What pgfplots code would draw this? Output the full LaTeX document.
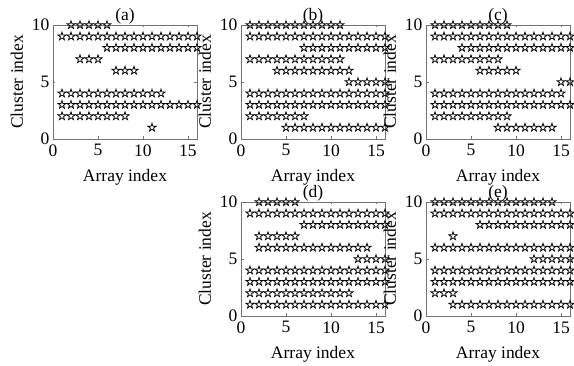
\documentclass[border=0pt]{standalone}
\usepackage{fontspec}
\setmainfont{Liberation Serif}
\usepackage{pgfplots}
\pgfplotsset{compat=1.18}
\pgfdeclareplotmark{pent}{%
  \pgfpathmoveto{\pgfpointpolar{90}{\pgfplotmarksize}}%
  \pgfpathlineto{\pgfpointpolar{126}{0.382\pgfplotmarksize}}%
  \pgfpathlineto{\pgfpointpolar{162}{\pgfplotmarksize}}%
  \pgfpathlineto{\pgfpointpolar{198}{0.382\pgfplotmarksize}}%
  \pgfpathlineto{\pgfpointpolar{234}{\pgfplotmarksize}}%
  \pgfpathlineto{\pgfpointpolar{270}{0.382\pgfplotmarksize}}%
  \pgfpathlineto{\pgfpointpolar{306}{\pgfplotmarksize}}%
  \pgfpathlineto{\pgfpointpolar{342}{0.382\pgfplotmarksize}}%
  \pgfpathlineto{\pgfpointpolar{18}{\pgfplotmarksize}}%
  \pgfpathlineto{\pgfpointpolar{54}{0.382\pgfplotmarksize}}%
  \pgfpathclose\pgfusepathqstroke}
\definecolor{axgray}{gray}{0.45}
\pgfplotsset{
  sub/.style={
    scale only axis, width=144pt, height=114pt,
    anchor=south west,
    xmin=0, xmax=16, ymin=0, ymax=10,
    xtick={0,5,10,15}, ytick={0,5,10},
    tick align=inside, major tick length=2.5pt,
    axis line style={axgray, line width=0.6pt},
    every tick/.style={axgray, line width=0.6pt},
    clip=false,
    font=\fontsize{17.5}{19}\selectfont,
    /pgf/number format/assume math mode=true,
    xlabel={Array index}, ylabel={Cluster index},
    xlabel style={yshift=-6pt},
    ylabel style={yshift=2pt},
    title style={yshift=-9pt},
    xticklabel style={yshift=-2pt},
  },
  st/.style={only marks, mark=pent, mark size=4.3pt, black, line width=0.75pt, line join=miter},
}
\begin{document}
\begin{tikzpicture}
\useasboundingbox (0,0) rectangle (574pt,-366pt);
% (a)
\begin{axis}[sub, at={(53pt,-139pt)}, title={(a)}]
\addplot[st] coordinates {(2,10)(3,10)(4,10)(5,10)(6,10)
(1,9)(2,9)(3,9)(4,9)(5,9)(6,9)(7,9)(8,9)(9,9)(10,9)(11,9)(12,9)(13,9)(14,9)(15,9)(16,9)
(6,8)(7,8)(8,8)(9,8)(10,8)(11,8)(12,8)(13,8)(14,8)(15,8)(16,8)
(3,7)(4,7)(5,7)
(7,6)(8,6)(9,6)
(1,4)(2,4)(3,4)(4,4)(5,4)(6,4)(7,4)(8,4)(9,4)(10,4)(11,4)(12,4)
(1,3)(2,3)(3,3)(4,3)(5,3)(6,3)(7,3)(8,3)(9,3)(10,3)(11,3)(12,3)(13,3)(14,3)(15,3)(16,3)
(1,2)(2,2)(3,2)(4,2)(5,2)(6,2)(7,2)(8,2)
(11,1)};
\end{axis}
% (b)
\begin{axis}[sub, at={(241pt,-139pt)}, title={(b)}]
\addplot[st] coordinates {(1,10)(2,10)(3,10)(4,10)(5,10)(6,10)(7,10)(8,10)(9,10)(10,10)(11,10)
(1,9)(2,9)(3,9)(4,9)(5,9)(6,9)(7,9)(8,9)(9,9)(10,9)(11,9)(12,9)(13,9)(14,9)(15,9)(16,9)
(7,8)(8,8)(9,8)(10,8)(11,8)(12,8)(13,8)(14,8)(15,8)(16,8)
(1,7)(2,7)(3,7)(4,7)(5,7)(6,7)(7,7)(8,7)(9,7)(10,7)(11,7)
(4,6)(5,6)(6,6)(7,6)(8,6)(9,6)(10,6)(11,6)(12,6)
(12,5)(13,5)(14,5)(15,5)(16,5)
(1,4)(2,4)(3,4)(4,4)(5,4)(6,4)(7,4)(8,4)(9,4)(10,4)(11,4)(12,4)(13,4)(14,4)(15,4)(16,4)
(1,3)(2,3)(3,3)(4,3)(5,3)(6,3)(7,3)(8,3)(9,3)(10,3)(11,3)(12,3)(13,3)(14,3)(15,3)(16,3)
(1,2)(2,2)(3,2)(4,2)(5,2)(6,2)(7,2)
(5,1)(6,1)(7,1)(8,1)(9,1)(10,1)(11,1)(12,1)(13,1)(14,1)(15,1)(16,1)};
\end{axis}
% (c)
\begin{axis}[sub, at={(426pt,-139pt)}, title={(c)}]
\addplot[st] coordinates {(1,10)(2,10)(3,10)(4,10)(5,10)(6,10)(7,10)(8,10)(9,10)
(1,9)(2,9)(3,9)(4,9)(5,9)(6,9)(7,9)(8,9)(9,9)(10,9)(11,9)(12,9)(13,9)(14,9)(15,9)(16,9)
(4,8)(5,8)(6,8)(7,8)(8,8)(9,8)(10,8)(11,8)(12,8)(13,8)(14,8)(15,8)(16,8)
(1,7)(2,7)(3,7)(4,7)(5,7)(6,7)(7,7)(8,7)
(6,6)(7,6)(8,6)(9,6)(10,6)
(15,5)(16,5)
(1,4)(2,4)(3,4)(4,4)(5,4)(6,4)(7,4)(8,4)(9,4)(10,4)(11,4)(12,4)(13,4)(14,4)(15,4)
(1,3)(2,3)(3,3)(4,3)(5,3)(6,3)(7,3)(8,3)(9,3)(10,3)(11,3)(12,3)(13,3)(14,3)(15,3)(16,3)
(1,2)(2,2)(3,2)(4,2)(5,2)(6,2)(7,2)(8,2)(9,2)
(8,1)(9,1)(10,1)(11,1)(12,1)(13,1)(14,1)};
\end{axis}
% (d)
\begin{axis}[sub, at={(241pt,-316pt)}, title={(d)}]
\addplot[st] coordinates {(2,10)(3,10)(4,10)(5,10)(6,10)
(1,9)(2,9)(3,9)(4,9)(5,9)(6,9)(7,9)(8,9)(9,9)(10,9)(11,9)(12,9)(13,9)(14,9)(15,9)(16,9)
(7,8)(8,8)(9,8)(10,8)(11,8)(12,8)(13,8)(14,8)(15,8)(16,8)
(2,7)(3,7)(4,7)(5,7)(6,7)
(2,6)(3,6)(4,6)(5,6)(6,6)(7,6)(8,6)(9,6)(10,6)(11,6)(12,6)(13,6)(14,6)
(13,5)(14,5)(15,5)(16,5)
(1,4)(2,4)(3,4)(4,4)(5,4)(6,4)(7,4)(8,4)(9,4)(10,4)(11,4)(12,4)(13,4)(14,4)(15,4)(16,4)
(1,3)(2,3)(3,3)(4,3)(5,3)(6,3)(7,3)(8,3)(9,3)(10,3)(11,3)(12,3)(13,3)(14,3)(15,3)(16,3)
(1,2)(2,2)(3,2)(4,2)(5,2)(6,2)(7,2)(8,2)(9,2)(10,2)(11,2)(12,2)
(1,1)(2,1)(3,1)(4,1)(5,1)(6,1)(7,1)(8,1)(9,1)(10,1)(11,1)(12,1)(13,1)(14,1)(15,1)(16,1)};
\end{axis}
% (e)
\begin{axis}[sub, at={(426pt,-316pt)}, title={(e)}]
\addplot[st] coordinates {(1,10)(2,10)(3,10)(4,10)(5,10)(6,10)(7,10)(8,10)(9,10)(10,10)(11,10)(12,10)(13,10)(14,10)
(1,9)(2,9)(3,9)(4,9)(5,9)(6,9)(7,9)(8,9)(9,9)(10,9)(11,9)(12,9)(13,9)(14,9)(15,9)(16,9)
(6,8)(7,8)(8,8)(9,8)(10,8)(11,8)(12,8)(13,8)(14,8)(15,8)(16,8)
(3,7)
(1,6)(2,6)(3,6)(4,6)(5,6)(6,6)(7,6)(8,6)(9,6)(10,6)(11,6)(12,6)(13,6)(14,6)(15,6)(16,6)
(12,5)(13,5)(14,5)(15,5)(16,5)
(1,4)(2,4)(3,4)(4,4)(5,4)(6,4)(7,4)(8,4)(9,4)(10,4)(11,4)(12,4)(13,4)(14,4)(15,4)(16,4)
(1,3)(2,3)(3,3)(4,3)(5,3)(6,3)(7,3)(8,3)(9,3)(10,3)(11,3)(12,3)(13,3)(14,3)(15,3)(16,3)
(1,2)(2,2)(3,2)
(3,1)(4,1)(5,1)(6,1)(7,1)(8,1)(9,1)(10,1)(11,1)(12,1)(13,1)(14,1)(15,1)(16,1)};
\end{axis}
\end{tikzpicture}
\end{document}
